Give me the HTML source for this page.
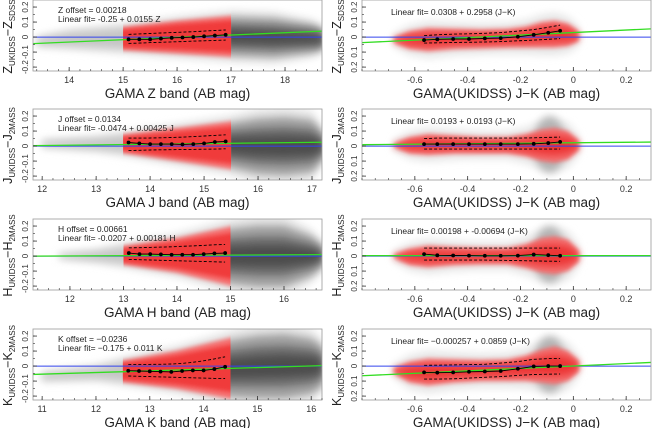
<!DOCTYPE html>
<html><head><meta charset="utf-8">
<style>
html,body{margin:0;padding:0;background:#fff;}
svg{display:block;font-family:"Liberation Sans",sans-serif;}
</style></head>
<body>
<svg id="fig" width="652" height="428" viewBox="0 0 652 428" xmlns="http://www.w3.org/2000/svg">
<defs>
<filter id="blur2" x="-20%" y="-50%" width="140%" height="200%"><feGaussianBlur stdDeviation="2.2"/></filter>
<filter id="blur4" x="-20%" y="-50%" width="140%" height="200%"><feGaussianBlur stdDeviation="4"/></filter>
</defs>
</svg>
<script>
// ---------- left panels data ----------
const zBinX=[15.1,15.3,15.5,15.7,15.9,16.1,16.3,16.5,16.7,16.9];
const zBinMed=[-0.015,-0.015,-0.015,-0.01,-0.005,-0.003,0,0.005,0.01,0.015];
const zBinHi=[0.018,0.021,0.024,0.027,0.03,0.033,0.036,0.04,0.044,0.047];
const zBinLo=[-0.042,-0.04,-0.037,-0.035,-0.032,-0.03,-0.027,-0.025,-0.022,-0.02];
const zFit=[-0.25,0.0155];
const zCloudX=[13.4,14,15,16,17,17.8,18.5,18.7];
const zCloudHi=[-0.01,0.03,0.06,0.1,0.13,0.12,0.08,0.05];
const zCloudLo=[-0.05,-0.06,-0.08,-0.1,-0.12,-0.13,-0.1,-0.08];

const jBinX=[13.6,13.8,14.0,14.2,14.4,14.6,14.8,15.0,15.2,15.4];
const jBinMed=[0.024,0.018,0.013,0.013,0.013,0.011,0.013,0.018,0.027,0.031];
const jBinHi=[0.053,0.053,0.054,0.055,0.057,0.06,0.063,0.067,0.071,0.075];
const jBinLo=[-0.03,-0.028,-0.026,-0.025,-0.024,-0.023,-0.022,-0.021,-0.02,-0.018];
const jFit=[-0.0474,0.00425];
const jCloudX=[12,13,13.5,14.5,15.5,16,16.5,17,17.2];
const jCloudHi=[0.03,0.05,0.07,0.11,0.15,0.18,0.19,0.17,0.08];
const jCloudLo=[0,-0.02,-0.04,-0.09,-0.14,-0.18,-0.19,-0.17,-0.08];

const hBinX=[13.1,13.3,13.5,13.7,13.9,14.1,14.3,14.5,14.7,14.9];
const hBinMed=[0.02,0.013,0.013,0.011,0.009,0.009,0.009,0.013,0.018,0.02];
const hBinHi=[0.055,0.056,0.058,0.06,0.062,0.065,0.068,0.071,0.075,0.078];
const hBinLo=[-0.022,-0.024,-0.026,-0.028,-0.03,-0.032,-0.034,-0.036,-0.038,-0.04];
const hFit=[-0.0207,0.00181];
const hCloudX=[11.8,12.5,13,14,15,15.5,16,16.5,16.7];
const hCloudHi=[0.01,0.03,0.06,0.11,0.18,0.2,0.2,0.13,0.07];
const hCloudLo=[-0.01,-0.03,-0.05,-0.1,-0.18,-0.2,-0.2,-0.13,-0.07];

const kBinX=[12.6,12.8,13.0,13.2,13.4,13.6,13.8,14.0,14.2,14.4];
const kBinMed=[-0.031,-0.033,-0.035,-0.037,-0.039,-0.033,-0.029,-0.029,-0.02,-0.005];
const kBinHi=[0.01,0.01,0.011,0.012,0.014,0.018,0.025,0.035,0.048,0.062];
const kBinLo=[-0.066,-0.068,-0.07,-0.072,-0.074,-0.076,-0.078,-0.08,-0.082,-0.083];
const kFit=[-0.175,0.011];
const kCloudX=[11,12,12.5,13.5,14.5,15,15.5,16,16.2];
const kCloudHi=[-0.05,-0.01,0.03,0.09,0.17,0.2,0.21,0.18,0.13];
const kCloudLo=[-0.09,-0.08,-0.1,-0.14,-0.2,-0.21,-0.21,-0.18,-0.13];

// ---------- right panels data ----------
const rBinX=[-0.565,-0.515,-0.455,-0.395,-0.335,-0.275,-0.21,-0.15,-0.095,-0.05];
const zrMed=[-0.02,-0.015,-0.013,-0.013,-0.009,-0.007,0.002,0.015,0.029,0.042];
const zrHi=[0.01,0.015,0.02,0.022,0.025,0.03,0.04,0.05,0.065,0.08];
const zrLo=[-0.04,-0.038,-0.036,-0.035,-0.033,-0.03,-0.025,-0.02,-0.015,-0.01];
const zrFit=[0.03,0.084];
const jrMed=[0.013,0.013,0.013,0.013,0.013,0.013,0.013,0.015,0.02,0.028];
const jrHi=[0.05,0.053,0.053,0.053,0.053,0.053,0.053,0.055,0.058,0.06];
const jrLo=[-0.02,-0.02,-0.02,-0.02,-0.02,-0.02,-0.02,-0.02,-0.02,-0.02];
const jrFit=[0.022,0.016];
const hrMed=[0.013,0.005,0.004,0.003,0.002,0.002,0.003,0.01,0.006,0.002];
const hrHi=[0.053,0.053,0.053,0.053,0.053,0.053,0.053,0.053,0.053,0.053];
const hrLo=[-0.027,-0.027,-0.027,-0.027,-0.027,-0.028,-0.03,-0.032,-0.034,-0.035];
const hrFit=[0.003,0.0];
const krMed=[-0.042,-0.044,-0.042,-0.038,-0.036,-0.033,-0.018,-0.002,0,0];
const krHi=[0.005,0.006,0.008,0.01,0.012,0.02,0.03,0.045,0.05,0.05];
const krLo=[-0.087,-0.087,-0.085,-0.08,-0.075,-0.07,-0.062,-0.056,-0.054,-0.053];
const krFit=[0.0005,0.081];
const rCloudX=[-0.68,-0.62,-0.55,-0.45,-0.35,-0.25,-0.18,-0.12,-0.07,-0.02,0.02];
const zrCloudHi=[-0.01,0.03,0.05,0.045,0.04,0.045,0.06,0.09,0.1,0.08,0.03];
const zrCloudLo=[-0.03,-0.07,-0.085,-0.07,-0.065,-0.06,-0.06,-0.06,-0.06,-0.05,-0.02];
const jrCloudHi=[0.01,0.05,0.07,0.06,0.05,0.05,0.07,0.1,0.11,0.09,0.03];
const jrCloudLo=[0,-0.04,-0.05,-0.04,-0.04,-0.04,-0.06,-0.09,-0.1,-0.08,-0.02];
const hrCloudHi=[0.005,0.04,0.06,0.05,0.045,0.045,0.07,0.11,0.12,0.1,0.03];
const hrCloudLo=[-0.005,-0.05,-0.065,-0.05,-0.045,-0.045,-0.07,-0.1,-0.11,-0.09,-0.03];
const krCloudHi=[-0.02,0.02,0.04,0.035,0.03,0.035,0.06,0.1,0.12,0.09,0.03];
const krCloudLo=[-0.04,-0.1,-0.12,-0.1,-0.09,-0.09,-0.09,-0.1,-0.11,-0.09,-0.03];

const leftTickLabels=["-0.2","-0.1","0","0.1","0.2"];
const rightTickLabels=["0.2","0.1","0","0.1","0.2"];
const rightXTickLabels=["-0.6","-0.4","-0.2","0","0.2"];

const NS="http://www.w3.org/2000/svg";
const svg=document.getElementById('fig');
function mk(tag,attrs,parent){const e=document.createElementNS(NS,tag);for(const k in attrs)e.setAttribute(k,attrs[k]);(parent||svg).appendChild(e);return e;}

const rowTops=[0,109,219,329];
const PH=71, YMAX=0.247, YMIN=-0.226;
const bands=[
 {b:'Z',s2:'SDSS',xmin:13.33,xmax:18.685,ticks:[14,15,16,17,18],redLo:15,redHi:17,bx:zBinX,med:zBinMed,hi:zBinHi,lo:zBinLo,fit:zFit,cx:zCloudX,ch:zCloudHi,cl:zCloudLo,t1:'Z  offset = 0.00218',t2:'Linear fit= -0.25 + 0.0155 Z',xl:'GAMA Z band (AB mag)',
  r:{med:zrMed,hi:zrHi,lo:zrLo,fit:zrFit,ch:zrCloudHi,cl:zrCloudLo,t:'Linear fit= 0.0308 + 0.2958 (J\u2212K)',plume:false}},
 {b:'J',s2:'2MASS',xmin:11.83,xmax:17.185,ticks:[12,13,14,15,16,17],redLo:13.5,redHi:15.5,bx:jBinX,med:jBinMed,hi:jBinHi,lo:jBinLo,fit:jFit,cx:jCloudX,ch:jCloudHi,cl:jCloudLo,t1:'J  offset = 0.0134',t2:'Linear fit= -0.0474 + 0.00425 J',xl:'GAMA J band (AB mag)',
  r:{med:jrMed,hi:jrHi,lo:jrLo,fit:jrFit,ch:jrCloudHi,cl:jrCloudLo,t:'Linear fit= 0.0193 + 0.0193 (J\u2212K)',plume:true}},
 {b:'H',s2:'2MASS',xmin:11.31,xmax:16.71,ticks:[12,13,14,15,16],redLo:13,redHi:15,bx:hBinX,med:hBinMed,hi:hBinHi,lo:hBinLo,fit:hFit,cx:hCloudX,ch:hCloudHi,cl:hCloudLo,t1:'H  offset = 0.00661',t2:'Linear fit= -0.0207 + 0.00181 H',xl:'GAMA H band (AB mag)',
  r:{med:hrMed,hi:hrHi,lo:hrLo,fit:hrFit,ch:hrCloudHi,cl:hrCloudLo,t:'Linear fit= 0.00198 + -0.00694 (J\u2212K)',plume:true}},
 {b:'K',s2:'2MASS',xmin:10.83,xmax:16.2,ticks:[11,12,13,14,15,16],redLo:12.5,redHi:14.5,bx:kBinX,med:kBinMed,hi:kBinHi,lo:kBinLo,fit:kFit,cx:kCloudX,ch:kCloudHi,cl:kCloudLo,t1:'K  offset = \u22120.0236',t2:'Linear fit= \u22120.175 + 0.011 K',xl:'GAMA K band (AB mag)',
  r:{med:krMed,hi:krHi,lo:krLo,fit:krFit,ch:krCloudHi,cl:krCloudLo,t:'Linear fit= \u22120.000257 + 0.0859 (J\u2212K)',plume:true}}
];
let clipId=0;
function clip(x,y,w,h){const id='c'+(clipId++);const cp=mk('clipPath',{id:id},svg.querySelector('defs'));mk('rect',{x:x,y:y,width:w,height:h},cp);return 'url(#'+id+')';}
function envPath(xs,his,los,sx,sy,k,extra){
 let pts=[];
 for(let i=0;i<xs.length;i++){const m=(his[i]+los[i])/2,h=(his[i]-los[i])/2*k+extra;pts.push(sx(xs[i]).toFixed(1)+','+sy(m+h).toFixed(1));}
 for(let i=xs.length-1;i>=0;i--){const m=(his[i]+los[i])/2,h=(his[i]-los[i])/2*k+extra;pts.push(sx(xs[i]).toFixed(1)+','+sy(m-h).toFixed(1));}
 return 'M'+pts.join('L')+'Z';
}
function linePath(xs,ys,sx,sy){return 'M'+xs.map((x,i)=>sx(x).toFixed(1)+','+sy(ys[i]).toFixed(1)).join('L');}

function panel(row,side,cfg){
 const top=rowTops[row];
 const x0=side==='L'?33:362, x1=side==='L'?322:651;
 const xmin=side==='L'?cfg.xmin:-0.8, xmax=side==='L'?cfg.xmax:0.294;
 const sx=v=>x0+(v-xmin)/(xmax-xmin)*(x1-x0);
 const sy=v=>top+(YMAX-v)/(YMAX-YMIN)*PH;
 const g=mk('g',{});
 
 
 const pc=clip(x0,top,x1-x0,PH);
 const cg=mk('g',{'clip-path':pc},g);
 
 
 const L=side==='L';
 const R=cfg.r;
 if(L){
  mk('path',{d:envPath(cfg.cx,cfg.ch,cfg.cl,sx,sy,1.3,0.01),fill:'#e2e2e2',filter:'url(#blur4)'},cg);
  mk('path',{d:envPath(cfg.cx,cfg.ch,cfg.cl,sx,sy,0.9,0),fill:'#c4c4c4',filter:'url(#blur4)'},cg);
  const dg=mk('g',{'clip-path':clip(sx(cfg.redHi),top,x1-sx(cfg.redHi),PH)},cg);
  mk('path',{d:envPath(cfg.cx,cfg.ch,cfg.cl,sx,sy,1.0,0),fill:'#a0a0a0',filter:'url(#blur4)'},dg);
  mk('path',{d:envPath(cfg.cx,cfg.ch,cfg.cl,sx,sy,0.65,0),fill:'#6e6e6e',filter:'url(#blur4)'},dg);
  mk('path',{d:envPath(cfg.cx,cfg.ch,cfg.cl,sx,sy,0.35,0),fill:'#444',opacity:0.8,filter:'url(#blur4)'},dg);
  const rg=mk('g',{'clip-path':clip(sx(cfg.redLo),top,sx(cfg.redHi)-sx(cfg.redLo),PH)},cg);
  mk('path',{d:envPath(cfg.cx,cfg.ch,cfg.cl,sx,sy,1.1,0),fill:'#f67070',filter:'url(#blur2)'},rg);
  mk('path',{d:envPath(cfg.cx,cfg.ch,cfg.cl,sx,sy,0.85,0),fill:'#f03a3a',filter:'url(#blur2)'},rg);
 } else {
  mk('path',{d:envPath(rCloudX,R.ch,R.cl,sx,sy,1.4,0.03),fill:'#e6e6e6',filter:'url(#blur4)'},cg);
  if(R.plume){mk('ellipse',{cx:sx(-0.09),cy:sy(0.01),rx:(sx(0)-sx(-0.06)),ry:(sy(0)-sy(0.19)),fill:'#8a8a8a',opacity:0.55,filter:'url(#blur4)'},cg);}
  mk('path',{d:envPath(rCloudX,R.ch,R.cl,sx,sy,1.05,0.005),fill:'#f47070',filter:'url(#blur2)'},cg);
  mk('path',{d:envPath(rCloudX,R.ch,R.cl,sx,sy,0.65,0),fill:'#ec3535',filter:'url(#blur4)'},cg);
 }
 const zl=mk('line',{x1:x0,x2:x1,y1:sy(0),y2:sy(0),stroke:'#3344ee','stroke-width':1},cg);
 
 
 const fit=L?cfg.fit:R.fit;
 const fl=mk('line',{x1:x0,x2:x1,y1:sy(fit[0]+fit[1]*xmin),y2:sy(fit[0]+fit[1]*xmax),stroke:'#33dd22','stroke-width':1.3},cg);
 
 
 const bx=L?cfg.bx:rBinX, med=L?cfg.med:R.med, hi=L?cfg.hi:R.hi, lo=L?cfg.lo:R.lo;
 const ph=mk('path',{d:linePath(bx,hi,sx,sy),fill:'none',stroke:'#000','stroke-width':0.9,'stroke-dasharray':'3,2'},cg);
 
 
 const pl=mk('path',{d:linePath(bx,lo,sx,sy),fill:'none',stroke:'#000','stroke-width':0.9,'stroke-dasharray':'3,2'},cg);
 
 
 const pm=mk('path',{d:linePath(bx,med,sx,sy),fill:'none',stroke:'#000','stroke-width':0.9},cg);
 
 
 bx.forEach((x,i)=>{const c=mk('circle',{cx:sx(x),cy:sy(med[i]),r:1.9,fill:'#000'},cg);
  
  });
 const fr=mk('rect',{x:x0,y:top,width:x1-x0,height:PH,fill:'none',stroke:'#999','stroke-width':0.8},g);
 
 
 const ticks=L?cfg.ticks:[-0.6,-0.4,-0.2,0,0.2];
 const minorStep=L?0.2:0.05;
 for(let v=Math.ceil(xmin/minorStep)*minorStep;v<xmax;v+=minorStep){const X=sx(v);mk('line',{x1:X,x2:X,y1:top+PH,y2:top+PH-2,stroke:'#333','stroke-width':0.6},g);}
 ticks.forEach((v,i)=>{const X=sx(v);mk('line',{x1:X,x2:X,y1:top+PH,y2:top+PH-4,stroke:'#333','stroke-width':0.8},g);
  const t=mk('text',{x:X,y:top+PH+12,'font-size':9,'text-anchor':'middle',fill:'#333'},g);t.textContent=L?String(v):rightXTickLabels[i];
  
  });
 const yt=[-0.2,-0.1,0,0.1,0.2];
 for(let v=-0.2;v<=0.2001;v+=0.05){mk('line',{x1:x0,x2:x0+2,y1:sy(v),y2:sy(v),stroke:'#333','stroke-width':0.6},g);}
 yt.forEach((v,i)=>{const Y=sy(v);mk('line',{x1:x0,x2:x0+4,y1:Y,y2:Y,stroke:'#333','stroke-width':0.8},g);
  const tx=x0-5;const t=mk('text',{x:tx,y:Y,'font-size':8,'text-anchor':'middle',fill:'#333',transform:'rotate(-90 '+tx+' '+Y+')'},g);
  t.textContent=L?leftTickLabels[i]:rightTickLabels[i];
  
  });
 const tx=x0-21, ty=top+PH/2+1;
 const yt2=mk('text',{x:tx,y:ty,'font-size':12.5,'text-anchor':'middle',fill:'#222',transform:'rotate(-90 '+tx+' '+ty+')'},g);
 
 
 const a=mk('tspan',{},yt2);a.textContent=cfg.b;
 const b=mk('tspan',{'font-size':8,dy:3},yt2);b.textContent='UKIDSS';
 const c=mk('tspan',{dy:-3},yt2);c.textContent='\u2212'+cfg.b;
 const d=mk('tspan',{'font-size':8,dy:3},yt2);d.textContent=cfg.s2;
 const xt=mk('text',{x:(x0+x1)/2,y:top+PH+27,'font-size':13.5,'text-anchor':'middle',fill:'#222'},g);
 xt.textContent=L?cfg.xl:'GAMA(UKIDSS) J\u2212K (AB mag)';
 
 
 if(L){
  const t1=mk('text',{x:58,y:top+13,'font-size':8.5,fill:'#222'},g);t1.textContent=cfg.t1;
  
  
  const t2=mk('text',{x:58,y:top+22,'font-size':8.5,fill:'#222'},g);t2.textContent=cfg.t2;
  
  
 } else {
  const t=mk('text',{x:391,y:top+15,'font-size':8.5,fill:'#222'},g);t.textContent=R.t;
  
  
 }
}
bands.forEach((cfg,i)=>{panel(i,'L',cfg);panel(i,'R',cfg);});
</script>
</body></html>
